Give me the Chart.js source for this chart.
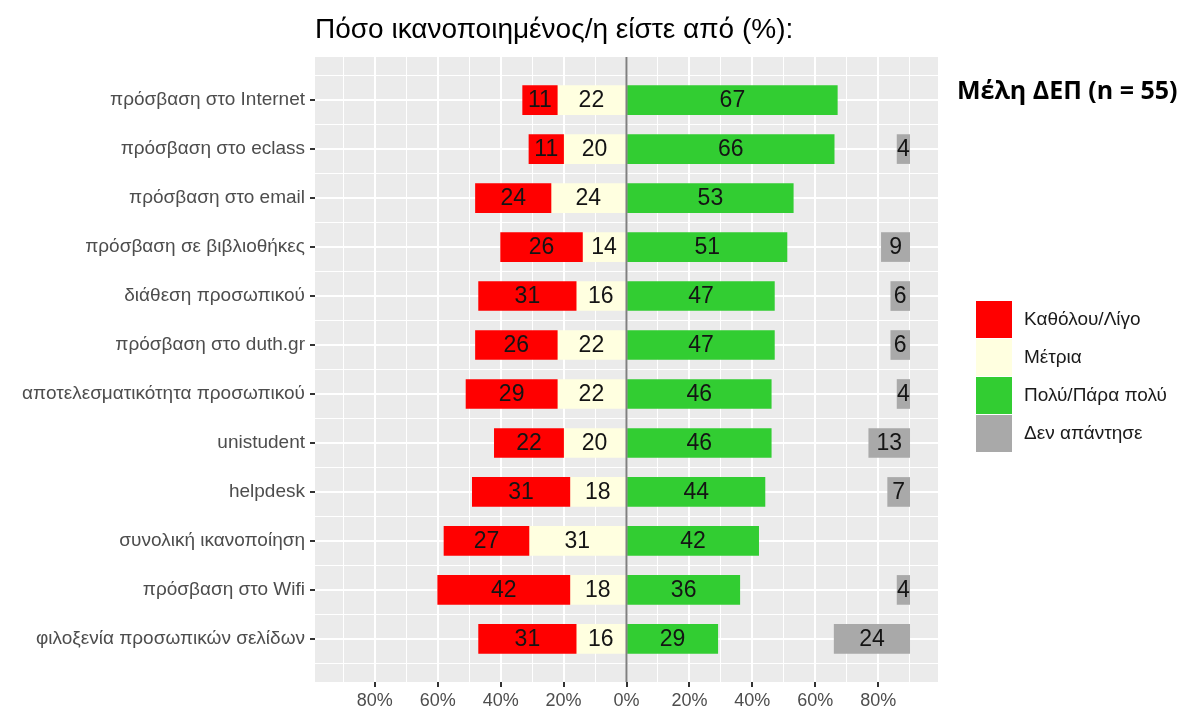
<!DOCTYPE html>
<html><head><meta charset="utf-8">
<script src="https://cdn.jsdelivr.net/npm/chart.js@4.4.0/dist/chart.umd.min.js"></script>
<style>
html,body{margin:0;padding:0;background:#fff;}
#wrap{position:relative;width:1185px;height:710px;}
#note{position:absolute;left:957px;top:72px;font:bold 25px 'Open Sans',sans-serif;color:#000;white-space:nowrap;}
</style></head><body>
<div id="wrap"><canvas id="c" width="1185" height="710"></canvas><div id="note">Μέλη ΔΕΠ (n = 55)</div></div>
<script>
const categories = [
  'πρόσβαση στο Internet','πρόσβαση στο eclass','πρόσβαση στο email','πρόσβαση σε βιβλιοθήκες',
  'διάθεση προσωπικού','πρόσβαση στο duth.gr','αποτελεσματικότητα προσωπικού','unistudent',
  'helpdesk','συνολική ικανοποίηση','πρόσβαση στο Wifi','φιλοξενία προσωπικών σελίδων'
];
const lowValues      = [11,11,24,26,31,26,29,22,31,27,42,31];
const midValues      = [22,20,24,14,16,22,22,20,18,31,18,16];
const highValues     = [67,66,53,51,47,47,46,46,44,42,36,29];
const noAnswerValues = [0,4,0,9,6,6,4,13,7,0,4,24];
const seriesLabels = ['Καθόλου/Λίγο','Μέτρια','Πολύ/Πάρα πολύ','Δεν απάντησε'];
const seriesColors = ['#FF0000','#FFFFE0','#32CD32','#A9A9A9'];
const xGridValues = [-90,-80,-70,-60,-50,-40,-30,-20,-10,0,10,20,30,40,50,60,70,80,90];
const xLabelValues = [-80,-60,-40,-20,0,20,40,60,80];
const noAnswerAnchor = 90;
const titleText = 'Πόσο ικανοποιημένος/η είστε από (%):';

const FONT = "'Liberation Sans', Arial, sans-serif";
const idx = categories.map((_, i) => i + 1);

const lowData  = idx.map((y, i) => ({y, x: [-(midValues[i] + lowValues[i]), -midValues[i]], v: lowValues[i]}));
const midData  = idx.map((y, i) => ({y, x: [-midValues[i], 0], v: midValues[i]}));
const highData = idx.map((y, i) => ({y, x: [0, highValues[i]], v: highValues[i]}));
const naData   = idx.map((y, i) => ({y, x: [noAnswerAnchor - noAnswerValues[i], noAnswerAnchor], v: noAnswerValues[i]}))
                   .filter(d => d.v > 0);

const mk = (k, data) => ({label: seriesLabels[k], data, backgroundColor: seriesColors[k],
  borderWidth: 0, barThickness: 29, grouped: false});

const yTicks = [];
for (let t = 0.5; t <= categories.length + 0.5; t += 0.5) yTicks.push(t);

const tv = c => (c && c.tick ? c.tick.value : NaN);
const isXMajor = c => xLabelValues.includes(tv(c));
const isYMajor = c => Number.isInteger(tv(c));

const panelBg = {
  id: 'panelBg',
  beforeDraw(chart) {
    const {ctx, chartArea: a} = chart;
    ctx.save(); ctx.fillStyle = '#EBEBEB';
    ctx.fillRect(a.left, a.top, a.right - a.left, a.bottom - a.top);
    ctx.restore();
  }
};
const overlay = {
  id: 'overlay',
  afterDatasetsDraw(chart) {
    const {ctx, chartArea: a, scales} = chart;
    const x0 = scales.x.getPixelForValue(0);
    ctx.save();
    ctx.strokeStyle = '#7F7F7F'; ctx.lineWidth = 2;
    ctx.beginPath(); ctx.moveTo(x0, a.top); ctx.lineTo(x0, a.bottom); ctx.stroke();
    ctx.font = '23px ' + FONT; ctx.fillStyle = '#141414';
    ctx.textAlign = 'center'; ctx.textBaseline = 'middle';
    chart.data.datasets.forEach((ds, di) => {
      const meta = chart.getDatasetMeta(di);
      meta.data.forEach((el, i) => {
        ctx.fillText(String(ds.data[i].v), (el.x + el.base) / 2, el.y + 1);
      });
    });
    ctx.restore();
  },
  afterDraw(chart) {
    const {ctx} = chart;
    ctx.save();
    ctx.font = '19px ' + FONT; ctx.textBaseline = 'middle'; ctx.textAlign = 'left';
    chart.data.datasets.forEach((ds, i) => {
      const y = 301 + i * 38;
      ctx.fillStyle = ds.backgroundColor;
      ctx.fillRect(976, y, 36, 37);
      ctx.fillStyle = '#1A1A1A';
      ctx.fillText(ds.label, 1024, y + 19);
    });
    ctx.restore();
  }
};

new Chart(document.getElementById('c'), {
  type: 'bar',
  data: {datasets: [mk(0, lowData), mk(1, midData), mk(2, highData), mk(3, naData)]},
  options: {
    indexAxis: 'y', responsive: false, animation: false, devicePixelRatio: 1,
    layout: {padding: {left: 0, right: 247, top: 0, bottom: 0}},
    plugins: {
      legend: {display: false}, tooltip: {enabled: false},
      title: {display: true, text: titleText, align: 'start', fullSize: false, color: '#000',
        font: {family: FONT, size: 28, weight: 'normal'}, padding: {top: 13, bottom: 10.4}}
    },
    scales: {
      x: {
        type: 'linear', min: -99, max: 99, bounds: 'data', offset: false,
        afterBuildTicks: s => { s.ticks = xGridValues.map(v => ({value: v})); },
        afterFit: s => { s.height = 28; },
        border: {display: false},
        grid: {
          offset: false, color: '#FFFFFF',
          lineWidth: c => (isXMajor(c) ? 2 : 1),
          tickColor: c => (isXMajor(c) ? '#333333' : 'rgba(0,0,0,0)'),
          tickLength: 5, tickWidth: 2
        },
        ticks: {autoSkip: false, maxRotation: 0, padding: 3, color: '#4D4D4D',
          font: {family: FONT, size: 18},
          callback: v => (xLabelValues.includes(v) ? Math.abs(v) + '%' : '')}
      },
      y: {
        type: 'linear', min: 0.12, max: 12.88, reverse: true, bounds: 'data', offset: false,
        afterBuildTicks: s => { s.ticks = yTicks.map(v => ({value: v})); },
        afterFit: s => { s.width = 315; },
        border: {display: false},
        grid: {
          offset: false, color: '#FFFFFF',
          lineWidth: c => (isYMajor(c) ? 2 : 1),
          tickColor: c => (isYMajor(c) ? '#333333' : 'rgba(0,0,0,0)'),
          tickLength: 5, tickWidth: 2
        },
        ticks: {autoSkip: false, padding: 5, color: '#4D4D4D',
          font: {family: FONT, size: 19},
          callback: v => (Number.isInteger(v) ? categories[v - 1] : '')}
      }
    }
  },
  plugins: [panelBg, overlay]
});
</script></body></html>
